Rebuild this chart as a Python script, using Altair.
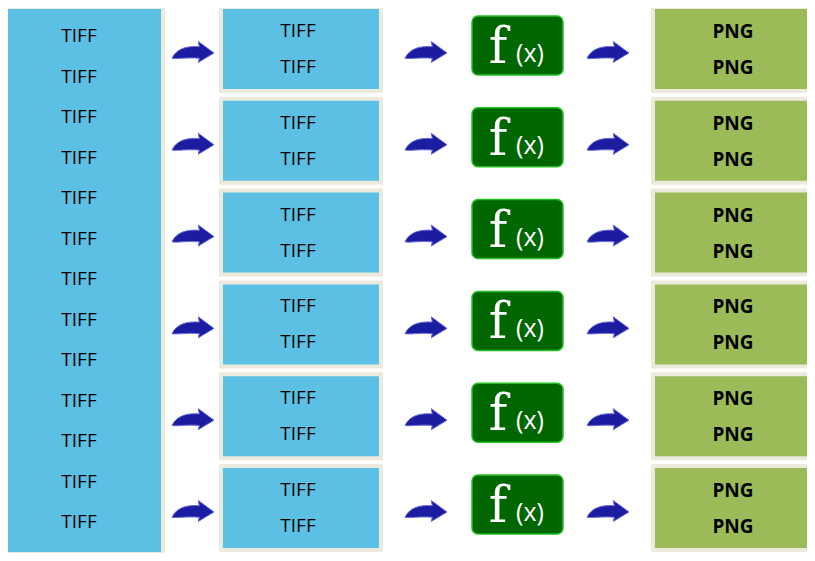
import altair as alt
import pandas as pd

left_labels = ["TIFF"] * 13
row_labels_in = [["TIFF", "TIFF"]] * 6
row_labels_out = [["PNG", "PNG"]] * 6
func_label = "f"
func_arg = "(x)"

n_rows = 6
row_step = 91.8
row_top0 = 7
box_h = 84

X = alt.X("x:Q", scale=alt.Scale(domain=[8, 807]), axis=None)
Y = alt.Y("y:Q", scale=alt.Scale(domain=[553, 8]), axis=None)

boxes = [dict(x=3, x2=163, y=7, y2=554, fill="#5bc0e3")]
for i in range(n_rows):
    t = row_top0 + i * row_step
    boxes.append(dict(x=221, x2=381, y=t, y2=t + box_h, fill="#5bc0e3"))
    boxes.append(dict(x=653, x2=812, y=t, y2=t + box_h, fill="#9bbb59"))
bdf = pd.DataFrame(boxes)
box_layer = alt.Chart(bdf).mark_rect(stroke="#ece9dd", strokeWidth=4).encode(
    x=X, x2="x2:Q", y=Y, y2="y2:Q", fill=alt.Fill("fill:N", scale=None))

fx = []
for i in range(n_rows):
    t = row_top0 + i * row_step
    fx.append(dict(x=472, x2=563, y=t + 9, y2=t + 68))
fdf = pd.DataFrame(fx)
fx_layer = alt.Chart(fdf).mark_rect(fill="#006600", stroke="#22c022", strokeWidth=1.5,
                                    cornerRadius=6).encode(x=X, x2="x2:Q", y=Y, y2="y2:Q")

texts = []
for j, lab in enumerate(left_labels):
    texts.append(dict(x=79, y=36 + j * 40.5, t=lab, w="normal", c="black", s=19, f="Open Sans"))
for i in range(n_rows):
    c = row_top0 + i * row_step + 42
    for k, lab in enumerate(row_labels_in[i]):
        texts.append(dict(x=298, y=c - 18 + k * 36, t=lab, w="normal", c="black", s=19, f="Open Sans"))
    for k, lab in enumerate(row_labels_out[i]):
        texts.append(dict(x=733, y=c - 17 + k * 36, t=lab, w="bold", c="black", s=19, f="Open Sans"))
    texts.append(dict(x=498, y=c - 1, t=func_label, w="normal", c="white", s=50, f="DejaVu Serif"))
    texts.append(dict(x=530, y=c + 5, t=func_arg, w="normal", c="white", s=25, f="Open Sans"))
tdf = pd.DataFrame(texts)
text_layers = []
for (w, f), g in tdf.groupby(["w", "f"]):
    text_layers.append(alt.Chart(g).mark_text(baseline="middle", align="center", fontWeight=w, font=f).encode(
        x=X, y=Y, text="t:N",
        color=alt.Color("c:N", scale=None),
        size=alt.Size("s:Q", scale=None)))

arrows = []
for i in range(n_rows):
    c = row_top0 + i * row_step + 46
    for ax in [193, 426, 608]:
        arrows.append(dict(x=ax, y=c))
adf = pd.DataFrame(arrows)
arrow_path = "M-1,0.25 C-0.8,-0.2 -0.3,-0.35 0.3,-0.3 L0.25,-0.55 L1,0 L0.25,0.45 L0.3,0.25 C-0.3,0.2 -0.8,0.3 -1,0.25 Z"
arrow_layer = alt.Chart(adf).mark_point(shape=arrow_path, filled=True, fill="#1c1ca0",
                                         stroke="#6b6bdc", strokeWidth=1, opacity=1, size=1764).encode(x=X, y=Y)

chart = alt.layer(box_layer, fx_layer, arrow_layer, *text_layers).properties(
    width=799, height=545, padding=0, autosize="none", background="white"
).configure_view(stroke=None)

chart.save("out.html", embed_options={"renderer": "svg", "actions": False})
